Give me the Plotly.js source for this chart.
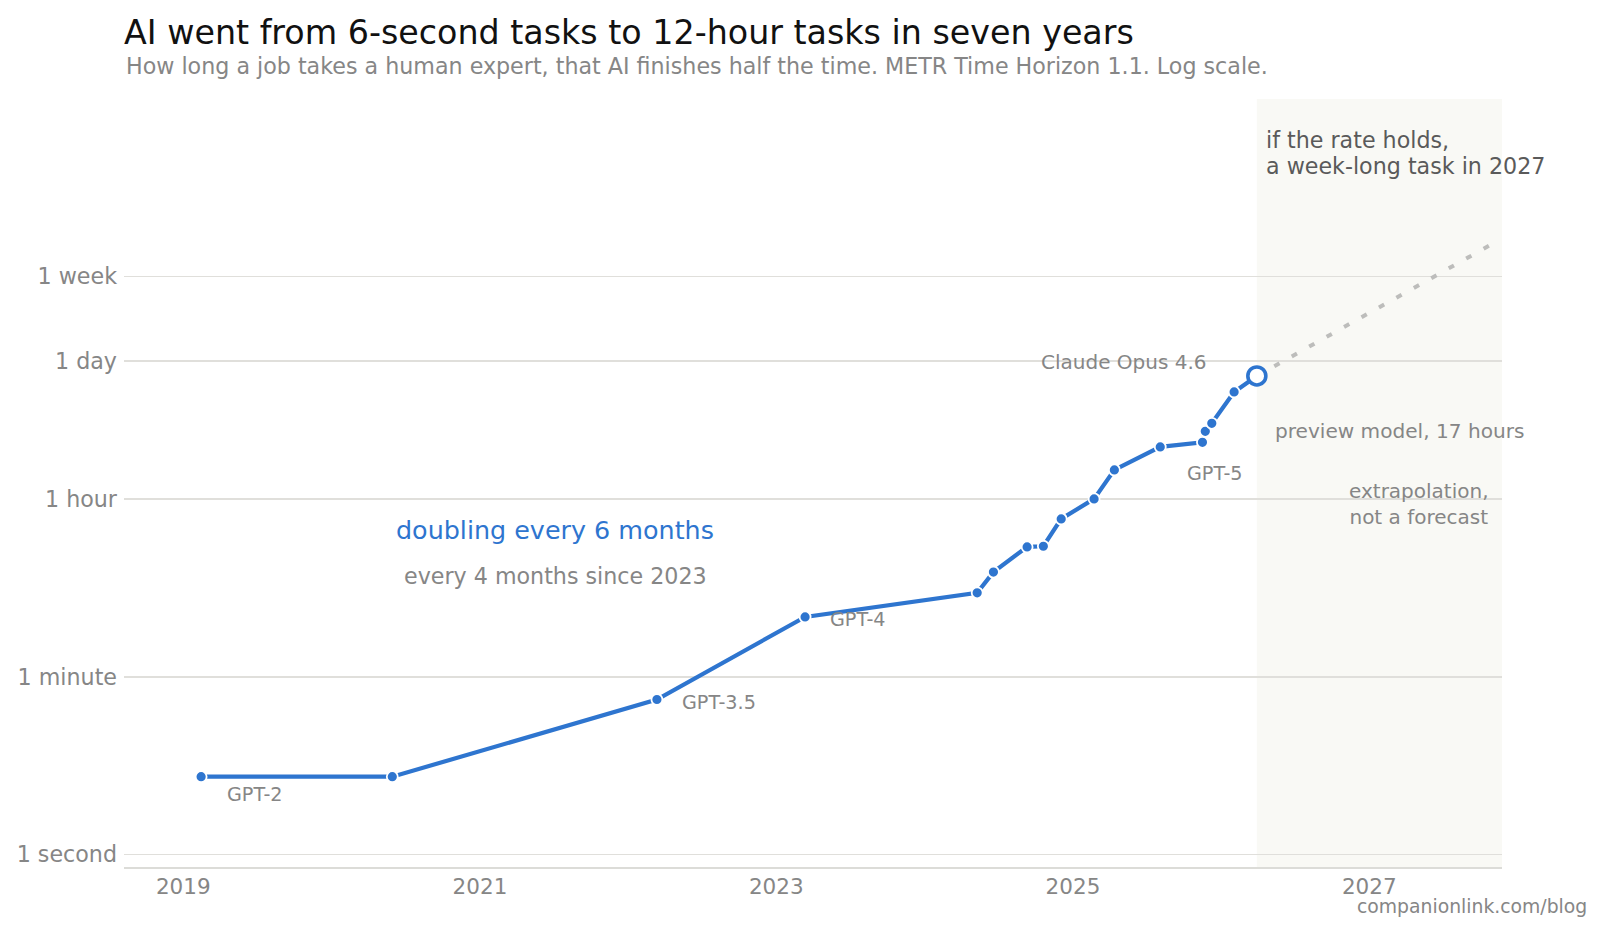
<!DOCTYPE html>
<html>
<head>
<meta charset="utf-8">
<script src="https://cdn.plot.ly/plotly-3.0.1.min.js"></script>
<style>
  html, body { margin: 0; padding: 0; background: #fff; }
  #chart { width: 1603px; height: 932px; }
</style>
</head>
<body>
<div id="chart"></div>
<script>
'use strict';

// METR time horizon, seconds of human-expert work at 50% success
const releaseDates = ['2019-02-14', '2020-05-30', '2022-03-13', '2023-03-13', '2024-05-10',
    '2024-06-19', '2024-09-10', '2024-10-20', '2024-12-03', '2025-02-22', '2025-04-13',
    '2025-08-04', '2025-11-16', '2025-11-23', '2025-12-09', '2026-02-02', '2026-03-30'];
const horizonSeconds = [6.0, 6.0, 35.5, 238, 414, 668, 1194, 1211, 2275, 3606, 7031,
    11940, 13280, 17100, 20560, 42360, 61200];

// dotted "if the rate holds" line
const projDates = ['2026-03-30', '2027-11-14'];
const projSeconds = [61200, 1377000];

const modelLabels = ['GPT-2', 'GPT-3.5', 'GPT-4', 'GPT-5', 'Claude Opus 4.6'];
const modelIndex = [0, 2, 3, 12, 16];

const yTickVals = [1, 60, 3600, 86400, 604800];
const yTickText = ['1 second', '1 minute', '1 hour', '1 day', '1 week'];
const xTickVals = ['2019-01-01', '2021-01-01', '2023-01-01', '2025-01-01', '2027-01-01'];
const xTickText = ['2019', '2021', '2023', '2025', '2027'];

const BLUE = '#2e75cf', GREY = '#868686', FONT = 'DejaVu Sans';
const last = releaseDates.length - 1;

const traces = [
    {
        x: projDates, y: projSeconds, type: 'scatter', mode: 'lines',
        line: { color: '#bdbdbb', width: 4, dash: '6px,14px' }, hoverinfo: 'skip',
    },
    {
        x: releaseDates, y: horizonSeconds, type: 'scatter', mode: 'lines+markers',
        line: { color: BLUE, width: 4.2 },
        marker: { color: BLUE, size: 11, line: { color: '#fff', width: 1.8 } },
    },
    {
        x: [releaseDates[last]], y: [horizonSeconds[last]], type: 'scatter', mode: 'markers',
        marker: { color: '#fff', size: 18, line: { color: BLUE, width: 3.6 } },
    },
];

// per-label placement: [xanchor, xshift, yshift, size]
const labelPlace = [
    ['left', 24, -18, 19.2],
    ['left', 23, -3, 19.2],
    ['left', 23, -3, 19.2],
    ['left', -17, -31, 19.2],
    ['right', -48, 14, 20],
];

const annotations = modelLabels.map((txt, k) => {
    const i = modelIndex[k], p = labelPlace[k];
    return {
        x: releaseDates[i], y: Math.log10(horizonSeconds[i]), xref: 'x', yref: 'y',
        text: txt, showarrow: false, xanchor: p[0], yanchor: 'middle',
        xshift: p[1], yshift: p[2], font: { family: FONT, size: p[3], color: GREY },
    };
});

annotations.push(
    { x: '2021-07-06', y: 3.25, xref: 'x', yref: 'y', text: 'doubling every 6 months', showarrow: false,
      xanchor: 'center', yanchor: 'middle', font: { family: FONT, size: 25.4, color: BLUE } },
    { x: '2021-07-06', y: 2.79, xref: 'x', yref: 'y', text: 'every 4 months since 2023', showarrow: false,
      xanchor: 'center', yanchor: 'middle', font: { family: FONT, size: 22.2, color: GREY } },
    { x: '2026-04-16', y: 7.15, xref: 'x', yref: 'y', text: 'if the rate holds,',
      showarrow: false, xanchor: 'left', yanchor: 'middle', font: { family: FONT, size: 22.2, color: '#5a5a5a' } },
    { x: '2026-04-16', y: 6.885, xref: 'x', yref: 'y', text: 'a week-long task in 2027',
      showarrow: false, xanchor: 'left', yanchor: 'middle', font: { family: FONT, size: 22.2, color: '#5a5a5a' } },
    { x: '2026-05-10', y: 4.24, xref: 'x', yref: 'y', text: 'preview model, 17 hours', showarrow: false,
      xanchor: 'left', yanchor: 'middle', font: { family: FONT, size: 20.1, color: GREY } },
    { x: '2027-05-03', y: 3.51, xref: 'x', yref: 'y', text: 'extrapolation,<br>not a forecast', showarrow: false,
      xanchor: 'center', yanchor: 'middle', align: 'center', font: { family: FONT, size: 20, color: GREY } },
    { x: 0, y: 1.0433, xref: 'paper', yref: 'paper',
      text: 'How long a job takes a human expert, that AI finishes half the time. METR Time Horizon 1.1. Log scale.',
      showarrow: false, xanchor: 'left', yanchor: 'middle', font: { family: FONT, size: 22.2, color: GREY } },
    { x: 1.063, y: -0.052, xref: 'paper', yref: 'paper', text: 'companionlink.com/blog', showarrow: false,
      xanchor: 'right', yanchor: 'middle', font: { family: FONT, size: 18.8, color: GREY } },
);

const layout = {
    width: 1603, height: 932,
    margin: { l: 124, r: 101, t: 99, b: 65 },
    paper_bgcolor: '#fff', plot_bgcolor: '#fff',
    showlegend: false,
    font: { family: FONT, color: GREY },
    title: {
        text: 'AI went from 6-second tasks to 12-hour tasks in seven years',
        x: 124 / 1603, xanchor: 'left', xref: 'container',
        y: 1 - 32 / 932, yanchor: 'middle', yref: 'container',
        font: { family: FONT, size: 33.3, color: '#111111' },
    },
    xaxis: {
        type: 'date', range: ['2018-08-08', '2027-11-24'],
        tickvals: xTickVals, ticktext: xTickText,
        showgrid: false, zeroline: false, ticks: '',
        showline: true, linecolor: '#dcdcd8', linewidth: 1.5,
        tickfont: { family: FONT, size: 21.5, color: GREY }, ticklabelstandoff: 0,
    },
    yaxis: {
        type: 'log', range: [-0.125, 7.557],
        tickvals: yTickVals, ticktext: yTickText,
        showgrid: true, gridcolor: '#e0dfdb', gridwidth: 1.6,
        zeroline: false, showline: false, ticks: '',
        tickfont: { family: FONT, size: 22.2, color: GREY }, ticklabelstandoff: 6,
    },
    shapes: [{
        type: 'rect', xref: 'x', yref: 'paper', layer: 'below',
        x0: releaseDates[last], x1: '2027-11-24', y0: 0, y1: 1,
        fillcolor: '#f9f9f5', line: { width: 0 },
    }],
    annotations,
};

Plotly.newPlot('chart', traces, layout, { displayModeBar: false, staticPlot: true });
</script>
</body>
</html>
